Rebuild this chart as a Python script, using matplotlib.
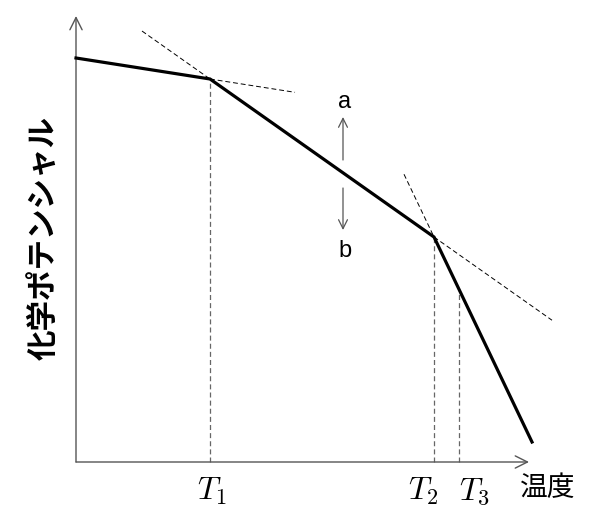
import matplotlib
matplotlib.use("Agg")
import matplotlib.pyplot as plt
import numpy as np

plt.rcParams['font.family'] = ['Noto Sans CJK JP', 'DejaVu Sans']
plt.rcParams['mathtext.fontset'] = 'cm'

# temperature break points and chemical potential at the break points
temps = [0.0, 1.34, 3.58, 4.56]
mu = [4.04, 3.83, 2.25, 0.20]
t3 = 3.83
tick_names = ["$T_1$", "$T_2$", "$T_3$"]
# label centres (T2 / T3 pushed apart so they don't collide)
tick_label_x = [1.36, 3.47, 3.98]
# how far the dashed tangent extensions reach
ext_seg1 = 2.19     # first segment beyond T1
ext_seg2 = [0.66, 4.76]  # second segment before T1 / after T2
ext_seg3 = 3.28     # third segment before T2


def line_through(x0, y0, x1, y1, xs):
    k = (y1 - y0) / (x1 - x0)
    return [y0 + k * (x - x0) for x in xs]


fig = plt.figure(figsize=(6.08, 5.19), dpi=100)
ax = fig.add_axes([0, 0, 1, 1])
ax.set_xlim(-0.76, 5.32)
ax.set_ylim(-0.57, 4.62)
ax.axis("off")

# axes with open arrow heads
ax.annotate("", xy=(4.53, 0), xytext=(0, 0),
            arrowprops=dict(arrowstyle="->", color="#555555", lw=1.0,
                            mutation_scale=22, shrinkA=0, shrinkB=0))
ax.annotate("", xy=(0, 4.46), xytext=(0, 0),
            arrowprops=dict(arrowstyle="->", color="#555555", lw=1.0,
                            mutation_scale=22, shrinkA=0, shrinkB=0))

# main curve
ax.plot(temps, mu, color="black", lw=2.3, solid_joinstyle="miter", zorder=3)

# tangent extensions
dash = dict(color="black", lw=0.7, dashes=(5, 3))
xs = [temps[1], ext_seg1]
ax.plot(xs, line_through(temps[0], mu[0], temps[1], mu[1], xs), **dash)
xs = [ext_seg2[0], temps[1]]
ax.plot(xs, line_through(temps[1], mu[1], temps[2], mu[2], xs), **dash)
xs = [temps[2], ext_seg2[1]]
ax.plot(xs, line_through(temps[1], mu[1], temps[2], mu[2], xs), **dash)
xs = [ext_seg3, temps[2]]
ax.plot(xs, line_through(temps[2], mu[2], temps[3], mu[3], xs), **dash)

# vertical guides
mu_t3 = line_through(temps[2], mu[2], temps[3], mu[3], [t3])[0]
vdash = dict(color="#666666", lw=0.9, dashes=(4, 2.5))
for tx, ty in [(temps[1], mu[1]), (temps[2], mu[2]), (t3, mu_t3)]:
    ax.plot([tx, tx], [0, ty], **vdash)

# tick labels
for lx, name in zip(tick_label_x, tick_names):
    ax.text(lx, -0.13, name, fontsize=23, ha="center", va="top")
ax.text(4.72, -0.26, "温度", fontsize=20, ha="center", va="center")
ax.text(-0.31, 2.24, "化学ポテンシャル", fontsize=22, fontweight="bold",
        rotation=90, ha="center", va="center")

# a / b arrows
ax.annotate("", xy=(2.67, 3.45), xytext=(2.67, 3.02),
            arrowprops=dict(arrowstyle="->", color="#555555", lw=0.9,
                            mutation_scale=16, shrinkA=0, shrinkB=0))
ax.annotate("", xy=(2.67, 2.32), xytext=(2.67, 2.74),
            arrowprops=dict(arrowstyle="->", color="#555555", lw=0.9,
                            mutation_scale=16, shrinkA=0, shrinkB=0))
ax.text(2.69, 3.60, "a", fontsize=17, ha="center", va="center",
        family="Liberation Sans")
ax.text(2.69, 2.11, "b", fontsize=17, ha="center", va="center",
        family="Liberation Sans")

fig.savefig("out.png", dpi=100)
